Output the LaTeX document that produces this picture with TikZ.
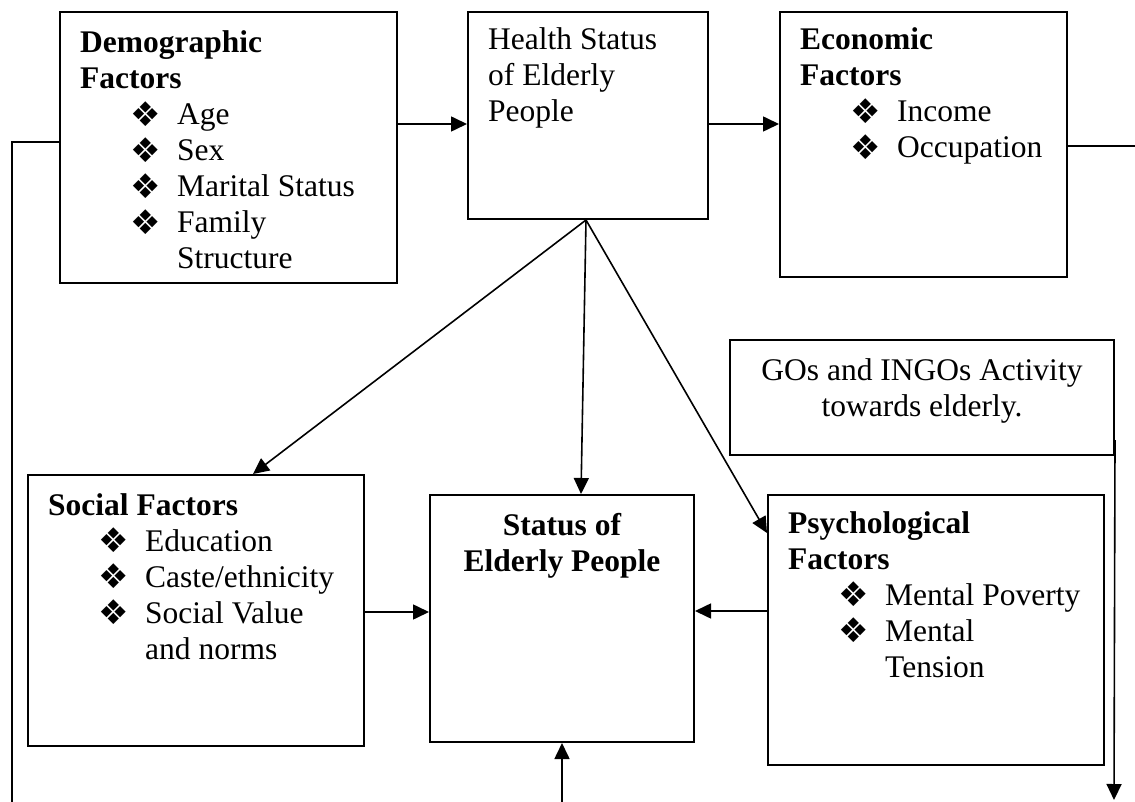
\documentclass[tikz,border=0pt]{standalone}
\usepackage{fontspec}
\setmainfont{Liberation Serif}
\newfontfamily\symfont{DejaVu Sans}
\usetikzlibrary{arrows.meta}
% list bullet and indented list lines
\newcommand\bul{\raisebox{-1.5pt}{\symfont\fontsize{34}{34}\selectfont ❖}}
\newcommand\itm[1]{\hspace*{50pt}\makebox[47pt][l]{\bul}#1}
\newcommand\cont[1]{\hspace*{97pt}#1}
\begin{document}
\begin{tikzpicture}[x=1pt,y=-1pt,
  font=\fontsize{31.5}{36}\selectfont,
  box/.style={draw,line width=2pt,inner sep=0pt},
  txt/.style={inner sep=0pt,anchor=base west},
  ctxt/.style={inner sep=0pt,anchor=base},
  conn/.style={line width=1.6pt},
  arr/.style={conn,-{Triangle[length=16pt,width=15pt]}}]
\useasboundingbox[fill=white] (0,0) rectangle (1135,802);

% boxes
\node[box,minimum width=337,minimum height=271] (demo)   at (228.5,147.5) {};
\node[box,minimum width=240,minimum height=207] (health) at (588,115.5) {};
\node[box,minimum width=287,minimum height=265] (econ)   at (923.5,144.5) {};
\node[box,minimum width=384,minimum height=115] (gos)    at (922,397.5) {};
\node[box,minimum width=336,minimum height=271] (social) at (196,610.5) {};
\node[box,minimum width=264,minimum height=247] (status) at (562,618.5) {};
\node[box,minimum width=336,minimum height=270] (psych)  at (936,630) {};

% box texts
\node[txt] (demoT) at (80,53) {\parbox[t]{320pt}{\textbf{Demographic}\\
  \textbf{Factors}\\ \itm{Age}\\ \itm{Sex}\\ \itm{Marital Status}\\
  \itm{Family}\\ \cont{Structure}}};
\node[txt] (healthT) at (488,50) {\parbox[t]{220pt}{Health Status\\
  of Elderly\\ People}};
\node[txt] (econT) at (800,50) {\parbox[t]{260pt}{\textbf{Economic}\\
  \textbf{Factors}\\ \itm{Income}\\ \itm{Occupation}}};
\node[ctxt] (gosT) at (922,380) {\parbox[t]{380pt}{\centering
  GOs and INGOs Activity\\ towards elderly.}};
\node[txt] (socialT) at (48,515) {\parbox[t]{320pt}{\textbf{Social Factors}\\
  \itm{Education}\\ \itm{Caste/ethnicity}\\ \itm{Social Value}\\
  \cont{and norms}}};
\node[ctxt] (statusT) at (562,535) {\parbox[t]{260pt}{\centering\bfseries
  Status of\\ Elderly People}};
\node[txt] (psychT) at (788,533) {\parbox[t]{320pt}{\textbf{Psychological}\\
  \textbf{Factors}\\ \itm{Mental Poverty}\\ \itm{Mental}\\ \cont{Tension}}};

% connectors
\coordinate (apex) at ([xshift=-2pt]health.south);
\draw[arr] (demo.east |- 0,124) -- (health.west |- 0,124);
\draw[arr] (health.east |- 0,124) -- (econ.west |- 0,124);
\coordinate (econEnd) at (1135,146);
\draw[conn] (econ.east |- econEnd) -- (econEnd);
\coordinate (leftTurn) at (12,142);
\coordinate (leftEnd) at (12,802);
\draw[conn] (demo.west |- leftTurn) -- (leftTurn) -- (leftEnd);
\draw[arr] (apex) -- (social.north -| 253,0);
\draw[arr] (apex) -- (status.north -| 581,0);
\draw[arr] (apex) -- (psych.west |- 0,533);
\draw[arr] (social.east |- 0,612) -- (status.west |- 0,612);
\draw[arr] (psych.west |- 0,611) -- (status.east |- 0,611);
\coordinate (botIn) at (562,802);
\draw[arr] (botIn) -- (status.south);
\coordinate (gosEnd) at (1114,800);
\draw[arr] (gos.east |- 0,440) -- (gosEnd);
\end{tikzpicture}
\end{document}
